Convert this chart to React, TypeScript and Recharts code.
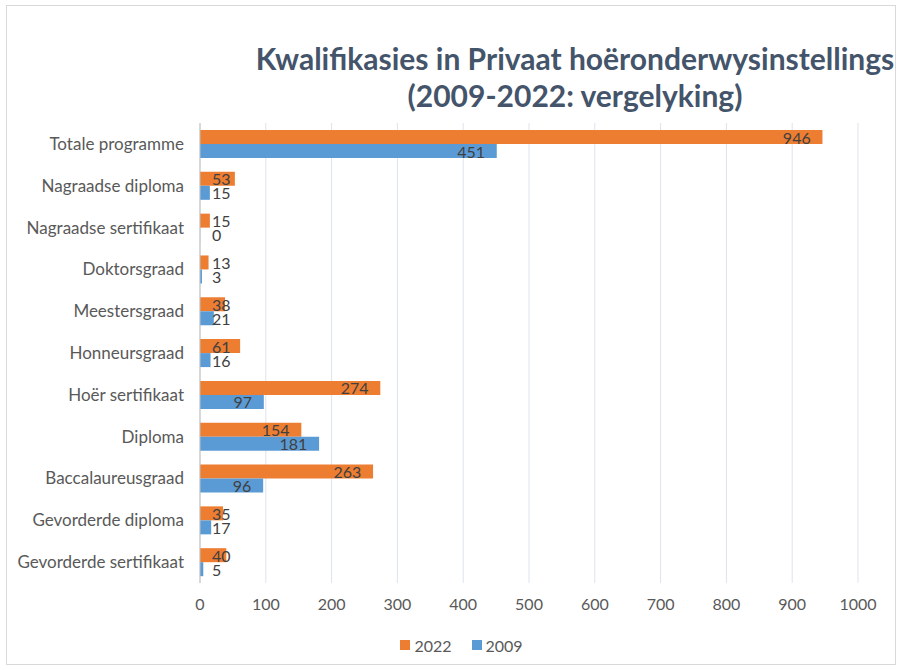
import { BarChart, Bar, XAxis, YAxis, CartesianGrid, Legend, LabelList } from 'recharts';

const categories = [
  'Totale programme',
  'Nagraadse diploma',
  'Nagraadse sertifikaat',
  'Doktorsgraad',
  'Meestersgraad',
  'Honneursgraad',
  'Hoër sertifikaat',
  'Diploma',
  'Baccalaureusgraad',
  'Gevorderde diploma',
  'Gevorderde sertifikaat',
];
const values2022 = [946, 53, 15, 13, 38, 61, 274, 154, 263, 35, 40];
const values2009 = [451, 15, 0, 3, 21, 16, 97, 181, 96, 17, 5];
const xTicks = [0, 100, 200, 300, 400, 500, 600, 700, 800, 900, 1000];

const data = categories.map((name, i) => ({
  name,
  y2022: values2022[i],
  y2009: values2009[i],
}));

const FONT = 'Lato, "Open Sans", sans-serif';
const ORANGE = '#ED7D31';
const BLUE = '#5B9BD5';

// Excel-style "inside end" label that falls back to the bar base when it doesn't fit
function BarValue(props: any) {
  const { x, y, width, height, value } = props;
  const tw = String(value).length * 9.2;
  let tx = x + width - 12 - tw;
  if (tx < x + 12) tx = x + 12;
  return (
    <text
      x={tx}
      y={y + height / 2}
      dominantBaseline="central"
      fill="#404040"
      fontSize={16}
      fontFamily={FONT}
    >
      {value}
    </text>
  );
}

function LegendBox() {
  const items = [
    { label: '2022', color: ORANGE },
    { label: '2009', color: BLUE },
  ];
  return (
    <div style={{ display: 'flex', justifyContent: 'center', height: 20, alignItems: 'center', paddingLeft: 78 }}>
      {items.map((it) => (
        <div key={it.label} style={{ display: 'flex', alignItems: 'center', marginRight: 20 }}>
          <span style={{ width: 10, height: 10, background: it.color, display: 'inline-block', marginRight: 4 }} />
          <span style={{ color: '#595959', fontSize: 16, fontFamily: FONT }}>{it.label}</span>
        </div>
      ))}
    </div>
  );
}

export default function App() {
  return (
    <div
      style={{
        position: 'absolute',
        left: 6,
        top: 5,
        width: 888,
        height: 658,
        border: '1px solid #d9d9d9',
        background: '#fff',
      }}
    >
      <div
        style={{
          position: 'absolute',
          left: 200,
          width: 736,
          top: 34,
          textAlign: 'center',
          fontFamily: FONT,
          fontWeight: 700,
          fontSize: 30,
          lineHeight: '37px',
          color: '#44546A',
          whiteSpace: 'nowrap',
        }}
      >
        Kwalifikasies in Privaat hoëronderwysinstellings
        <br />
        (2009-2022: vergelyking)
      </div>
      <BarChart
        width={888}
        height={658}
        data={data}
        layout="vertical"
        margin={{ top: 117, right: 37, bottom: 9, left: 0 }}
        barSize={14}
        barGap={0}
      >
        <CartesianGrid horizontal={false} stroke="#dde3ec" />
        <XAxis
          type="number"
          domain={[0, 1000]}
          ticks={xTicks}
          axisLine={false}
          tickLine={false}
          tickMargin={10}
          height={52}
          tick={{ fill: '#595959', fontSize: 16, fontFamily: FONT }}
        />
        <YAxis
          type="category"
          dataKey="name"
          width={193}
          axisLine={{ stroke: '#bfbfbf' }}
          tickLine={false}
          tickMargin={10}
          tick={{ fill: '#595959', fontSize: 17, fontFamily: FONT }}
          interval={0}
        />
        <Legend verticalAlign="bottom" content={() => <LegendBox />} />
        <Bar dataKey="y2022" name="2022" fill={ORANGE} isAnimationActive={false}>
          <LabelList dataKey="y2022" content={BarValue} />
        </Bar>
        <Bar dataKey="y2009" name="2009" fill={BLUE} minPointSize={0.1} isAnimationActive={false}>
          <LabelList dataKey="y2009" content={BarValue} />
        </Bar>
      </BarChart>
    </div>
  );
}
